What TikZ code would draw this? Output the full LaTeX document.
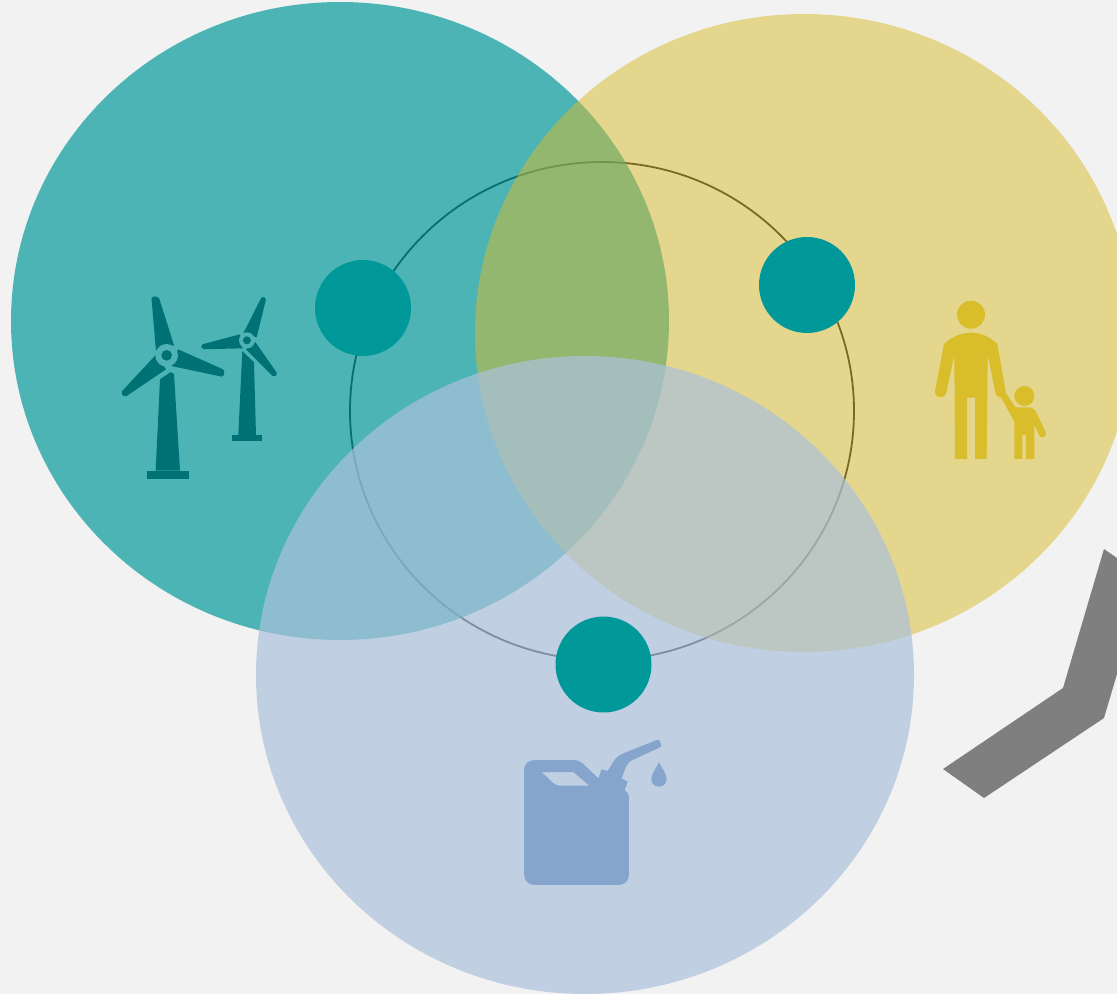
\documentclass[tikz,border=0pt]{standalone}
\definecolor{pagebg}{HTML}{F2F2F2}
\definecolor{tealbase}{HTML}{009899}
\definecolor{yellowbase}{HTML}{D9BB2A}
\definecolor{bluebase}{HTML}{ABC1DC}
\definecolor{tealicon}{HTML}{007276}
\definecolor{tealhalo}{HTML}{4FB3B5}
\definecolor{manicon}{HTML}{DABD2B}
\definecolor{canicon}{HTML}{86A5CD}
\definecolor{hexgrey}{HTML}{7F7F7F}
\definecolor{ringline}{HTML}{1A1A1A}
\tikzset{
  bigdisc/.style={fill opacity=#1},
  dot/.style={fill=tealbase}
}
\newcommand{\bladepart}[4]{\fill[tealicon] #1 [rounded corners=1.8pt] -- #2 -- #3 [sharp corners] -- #4 -- cycle;}
\begin{document}
\begin{tikzpicture}[x=1pt,y=-1pt]
\useasboundingbox (0,0) rectangle (1117,994);
\clip (0,0) rectangle (1117,994);
\fill[pagebg] (0,0) rectangle (1117,994);
% ring lies under the translucent discs
\draw[ringline,line width=1.8pt] (602,411) ellipse [x radius=252,y radius=249];
% three overlapping discs
\fill[tealbase,bigdisc=.68] (340,321) ellipse [x radius=329,y radius=319];
\fill[yellowbase,bigdisc=.5] (804,333) ellipse [x radius=329,y radius=319];
\fill[bluebase,bigdisc=.7] (585,675) ellipse [x radius=329,y radius=319];
% dots on the ring
\fill[dot] (363,308) circle (48);
\fill[dot] (807,285) circle (48);
\fill[dot] (603.5,664.5) circle (48);
% grey band
\fill[hexgrey] (1104,549) -- (1130,567) -- (1130,630) -- (1104,718) -- (984,798) -- (943,769) -- (1063,688) -- cycle;
% wind turbines (coordinates in 3x crop units)
\begin{scope}[shift={(100,280)},x=.3333pt,y=-.3333pt]
    % big turbine
    \bladepart{(168,212)}{(154,50)}{(176,50)}{(222,196)}
    \bladepart{(234,208)}{(374,270)}{(370,291)}{(214,258)}
    \bladepart{(168,224)}{(62,338)}{(74,352)}{(198,268)}
    \fill[tealicon] (180,298) -- (212,276) -- (222,282) -- (240,572) -- (167,572) -- cycle;
    \fill[tealicon] (142,572) rectangle (267,596);
    \fill[tealhalo] (200,226) circle (34);
    \fill[tealicon] (200,226) circle (16);
    % small turbine
    \bladepart{(430,160)}{(486,49)}{(499,54)}{(470,172)}
    \bladepart{(420,163)}{(303,194)}{(306,208)}{(428,205)}
    \bladepart{(466,186)}{(533,282)}{(522,292)}{(438,208)}
    \fill[tealicon] (427,213) -- (462,247) -- (468,465) -- (415,465) -- cycle;
    \fill[tealicon] (397,465) rectangle (486,483);
    \fill[tealhalo] (441,181) circle (24);
    \fill[tealicon] (441,181) circle (12);
\end{scope}
% adult and child
\begin{scope}[shift={(920,290)},x=.3333pt,y=-.3333pt]
  \fill[manicon] (153,74) circle (42);
  \fill[manicon] (313,318) circle (30);
  \fill[manicon] (72,162) .. controls (95,140) and (125,128) .. (153,128)
    .. controls (181,128) and (210,140) .. (232,162)
    -- (258,310) -- (287,352) -- (330,352) .. controls (340,354) and (346,360) .. (351,372)
    -- (378,428) .. controls (381,443) and (362,447) .. (358,436)
    -- (343,405) -- (343,507) -- (318,507) -- (318,435) -- (307,435) -- (307,507) -- (283,507) -- (283,395)
    -- (243,322) .. controls (232,322) and (227,316) .. (226,306)
    -- (203,195) -- (200,507) -- (165,507) -- (165,323) -- (141,323) -- (141,507) -- (105,507) -- (103,195)
    -- (79,308) .. controls (74,329) and (42,326) .. (45,303) -- cycle;
\end{scope}
% fuel can and drop
\begin{scope}[shift={(510,730)},x=.3333pt,y=-.3333pt]
  \fill[canicon,even odd rule]
    (42,122) .. controls (42,102) and (55,90) .. (75,90) -- (190,90) .. controls (203,90) and (210,93) .. (218,100)
    -- (265,145) -- (275,118) -- (293,123) -- (312,92) .. controls (320,80) and (330,74) .. (345,68)
    -- (440,30) .. controls (445,28) and (448,30) .. (450,34) -- (453,42) .. controls (455,47) and (454,50) .. (450,52)
    -- (372,88) .. controls (358,94) and (352,100) .. (348,110)
    -- (335,145) -- (353,155) -- (344,180) .. controls (352,185) and (357,192) .. (357,205)
    -- (357,432) .. controls (357,452) and (345,465) .. (325,465) -- (75,465)
    .. controls (55,465) and (42,452) .. (42,432) -- cycle
    (95,126) -- (190,126) -- (238,167) -- (155,167) .. controls (142,167) and (135,164) .. (128,158) -- cycle;
  \fill[canicon] (447,97) .. controls (455,115) and (470,130) .. (470,147)
    .. controls (470,177) and (424,177) .. (424,147)
    .. controls (424,130) and (439,115) .. (447,97) -- cycle;
\end{scope}
\end{tikzpicture}
\end{document}
